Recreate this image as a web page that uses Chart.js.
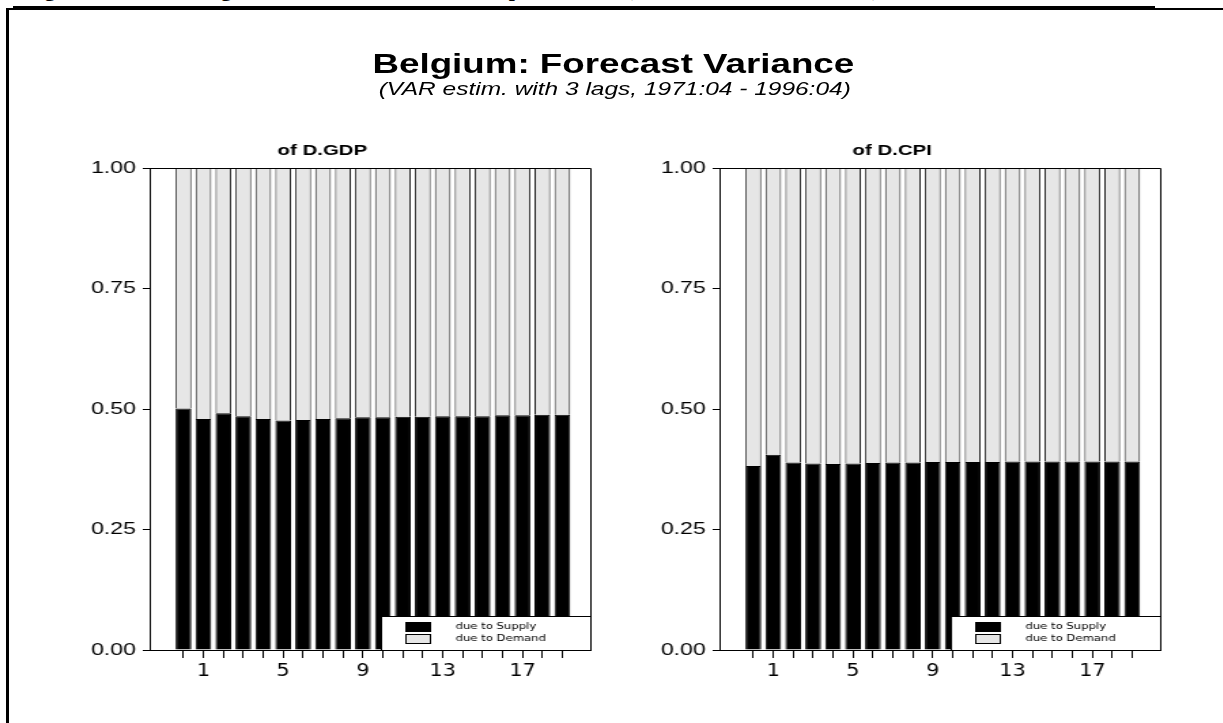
<!DOCTYPE html>
<html>
<head>
<meta charset="utf-8">
<title>Belgium: Forecast Variance</title>
<script src="https://cdn.jsdelivr.net/npm/chart.js@4.4.1/dist/chart.umd.min.js"></script>
<style>
  html, body { margin: 0; padding: 0; background: #fff; }
  body { width: 1223px; height: 723px; overflow: hidden; position: relative; font-family: 'Liberation Sans', Arial, sans-serif; }
  .page-head { position: absolute; left: 25px; top: -22px; font: bold 22px/22px 'Liberation Serif', 'Times New Roman', serif; word-spacing: 37px; white-space: nowrap; }
  .rule-thick { position: absolute; left: 13px; top: 6px; width: 1142px; height: 3px; background: #000; }
  .frame { position: absolute; left: 6px; top: 8px; width: 1300px; height: 800px; border-top: 2px solid #000; border-left: 3px solid #000; }
  /* the original graphic is stretched sideways, so draw narrow and widen */
  .stretch { position: absolute; left: 0; top: 0; width: 900px; height: 723px; transform: scaleX(1.36); transform-origin: 0 0; }
  .main-title { position: absolute; left: 0; width: 902px; top: 51px; text-align: center; font: bold 27px/27px 'Liberation Sans', Arial, sans-serif; }
  .sub-title { position: absolute; left: 0; width: 904px; top: 80px; text-align: center; font: italic 18px/18px 'Liberation Sans', Arial, sans-serif; }
  .panel { position: absolute; top: 133px; }
</style>
</head>
<body>
<div class="page-head">Figure 4: Belgium: Variance Decomposition (1971:04 - 1996:04)</div>
<div class="rule-thick"></div>
<div class="frame"></div>

<div class="stretch">
  <div class="main-title">Belgium: Forecast Variance</div>
  <div class="sub-title">(VAR estim. with 3 lags, 1971:04 - 1996:04)</div>
  <div class="panel" style="left:40px"><canvas id="gdpChart" width="404" height="567"></canvas></div>
  <div class="panel" style="left:459px"><canvas id="cpiChart" width="404" height="567"></canvas></div>
</div>

<script>
const horizons = [0, 1, 2, 3, 4, 5, 6, 7, 8, 9, 10, 11, 12, 13, 14, 15, 16, 17, 18, 19];
const tickLabels = [1, 5, 9, 13, 17];
const yTicks = [0, 0.25, 0.5, 0.75, 1];

const supplyGDP = [0.501, 0.479, 0.491, 0.485, 0.479, 0.476, 0.477, 0.479, 0.481, 0.483,
                   0.483, 0.484, 0.484, 0.485, 0.485, 0.485, 0.487, 0.487, 0.488, 0.488];
const demandGDP = [0.499, 0.521, 0.509, 0.515, 0.521, 0.524, 0.523, 0.521, 0.519, 0.517,
                   0.517, 0.516, 0.516, 0.515, 0.515, 0.515, 0.513, 0.513, 0.512, 0.512];

const supplyCPI = [0.382, 0.405, 0.389, 0.387, 0.386, 0.387, 0.388, 0.389, 0.389, 0.390,
                   0.390, 0.390, 0.390, 0.391, 0.391, 0.391, 0.391, 0.391, 0.391, 0.391];
const demandCPI = [0.618, 0.595, 0.611, 0.613, 0.614, 0.613, 0.612, 0.611, 0.611, 0.610,
                   0.610, 0.610, 0.610, 0.609, 0.609, 0.609, 0.609, 0.609, 0.609, 0.609];

const narrowFont = '"Liberation Sans Narrow", "DejaVu Sans Condensed", sans-serif';

// boxed legend in the lower right corner, plus the frame round the plot
const boxLegend = {
    id: 'boxLegend',
    afterDatasetsDraw(chart) {
        const { ctx, chartArea: a } = chart;
        const w = 154, h = 34;
        const x = Math.round(a.right - w), y = Math.round(a.bottom - h);
        ctx.save();
        ctx.fillStyle = '#fff';
        ctx.fillRect(x, y, w, h);
        ctx.strokeStyle = '#000';
        ctx.lineWidth = 1;
        ctx.strokeRect(x + 0.5, y + 0.5, w, h);
        ctx.font = '9.5px ' + narrowFont;
        ctx.textBaseline = 'middle';
        chart.data.datasets.forEach((ds, i) => {
            const ry = y + 6 + i * 12;
            ctx.fillStyle = ds.backgroundColor;
            ctx.fillRect(x + 18, ry, 19, 10);
            ctx.strokeStyle = '#000';
            ctx.strokeRect(x + 18.5, ry + 0.5, 18, 9);
            ctx.fillStyle = '#000';
            ctx.fillText(ds.label, x + 55, ry + 5);
        });
        const l = Math.round(a.left) + 0.5, r = Math.round(a.right) + 0.5;
        const t = Math.round(a.top) + 0.5, b = Math.round(a.bottom) + 0.5;
        ctx.beginPath();
        ctx.moveTo(l, b);
        ctx.lineTo(l, t);
        ctx.lineTo(r, t);
        ctx.lineTo(r, b);
        ctx.stroke();
        ctx.restore();
    }
};

const makePanel = (canvasId, panelTitle, supply, demand) => {
    const canvas = document.getElementById(canvasId);
    if (!canvas) return;
    const ctx = canvas.getContext('2d');
    new Chart(ctx, {
        type: 'bar',
        data: {
            datasets: [{
                label: 'due to Supply',
                data: horizons.map((h, i) => ({ x: h, y: supply[i] })),
                backgroundColor: '#000000',
                borderColor: '#000000',
                borderWidth: 1
            }, {
                label: 'due to Demand',
                data: horizons.map((h, i) => ({ x: h, y: demand[i] })),
                backgroundColor: '#e6e6e6',
                borderColor: '#222222',
                borderWidth: 1
            }]
        },
        options: {
            responsive: false,
            animation: false,
            layout: { padding: { left: 0, right: 10, top: 0, bottom: 0 } },
            datasets: { bar: { categoryPercentage: 1, barPercentage: 0.79 } },
            plugins: {
                legend: { display: false },
                tooltip: { enabled: false },
                title: {
                    display: true,
                    text: panelTitle,
                    color: '#000',
                    font: { family: 'Liberation Sans', size: 15, weight: 'bold' },
                    padding: { top: 9, bottom: 8 }
                }
            },
            scales: {
                x: {
                    type: 'linear',
                    stacked: true,
                    offset: false,
                    min: -1.7,
                    max: 20.4,
                    afterBuildTicks: (scale) => { scale.ticks = horizons.map(v => ({ value: v })); },
                    afterFit: (scale) => { scale.height = 50; },
                    grid: { offset: false, drawOnChartArea: false, tickLength: 8, color: '#000' },
                    border: { color: '#000' },
                    ticks: {
                        autoSkip: false,
                        maxRotation: 0,
                        padding: 3,
                        color: '#000',
                        font: { family: narrowFont, size: 17 },
                        callback: (v) => tickLabels.includes(v) ? String(v) : ''
                    }
                },
                y: {
                    stacked: true,
                    min: 0,
                    max: 1,
                    afterBuildTicks: (scale) => { scale.ticks = yTicks.map(v => ({ value: v })); },
                    afterFit: (scale) => { scale.width = 70; },
                    grid: { drawOnChartArea: false, tickLength: 5, color: '#000' },
                    border: { color: '#000' },
                    ticks: {
                        padding: 5,
                        color: '#000',
                        font: { family: 'Liberation Sans', size: 17 },
                        callback: (v) => v.toFixed(2)
                    }
                }
            }
        },
        plugins: [boxLegend]
    });
}

document.addEventListener('DOMContentLoaded', function() {
    makePanel('gdpChart', 'of D.GDP', supplyGDP, demandGDP);
    makePanel('cpiChart', 'of D.CPI', supplyCPI, demandCPI);
});
</script>
</body>
</html>
